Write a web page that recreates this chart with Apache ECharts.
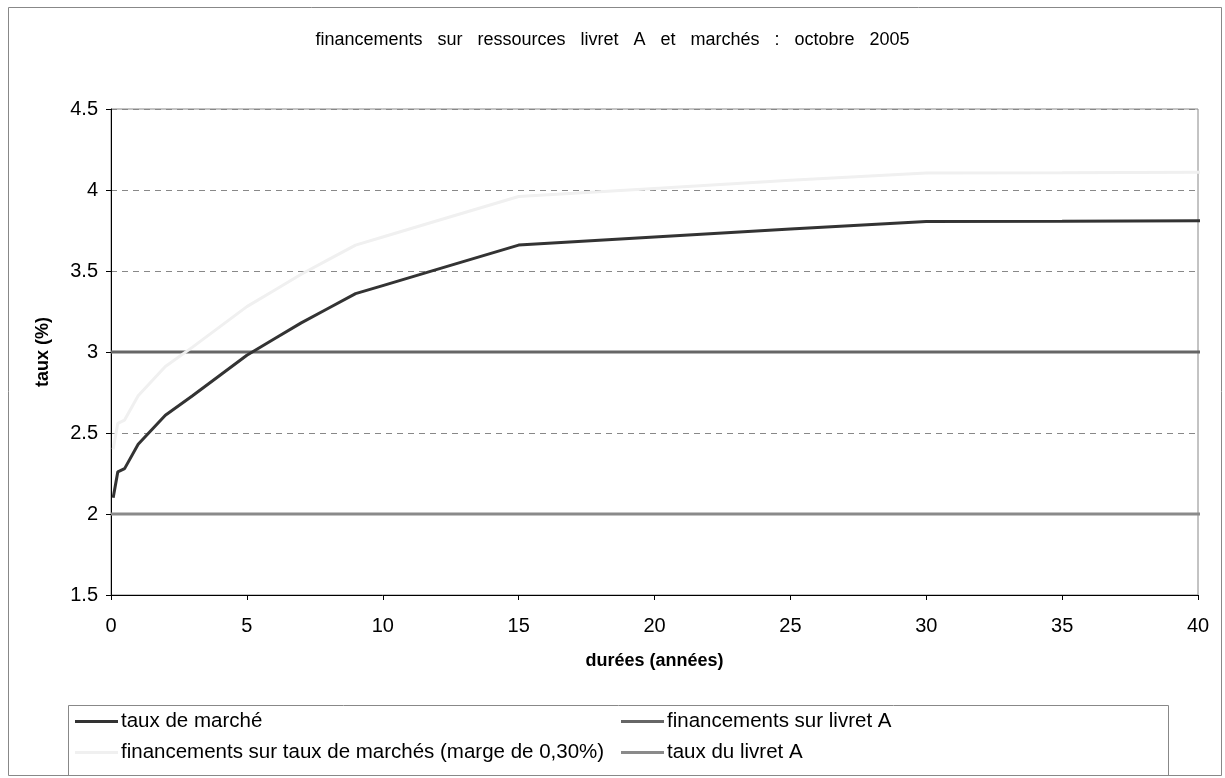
<!DOCTYPE html>
<html>
<head>
<meta charset="utf-8">
<script src="https://cdn.jsdelivr.net/npm/echarts@6/dist/echarts.min.js"></script>
<style>
html,body{margin:0;padding:0;background:#fff;}
#main{width:1225px;height:778px;}
</style>
</head>
<body>
<div id="main"></div>
<script>
// durées (années) et taux (%)
var durees = [0.08, 0.25, 0.5, 1, 2, 3, 4, 5, 6, 7, 8, 9, 10, 12, 15, 20, 25, 30, 35, 40.3];
var tauxMarche = [2.10, 2.26, 2.28, 2.43, 2.61, 2.73, 2.855, 2.98, 3.08, 3.18, 3.27, 3.36, 3.41, 3.51, 3.66, 3.71, 3.76, 3.805, 3.807, 3.81];
var financementsMarche = [2.40, 2.56, 2.58, 2.73, 2.91, 3.03, 3.155, 3.28, 3.38, 3.48, 3.57, 3.66, 3.71, 3.81, 3.96, 4.01, 4.06, 4.105, 4.107, 4.11];
var dureesLivret = [0, 40.3];
var financementsLivret = [3, 3];
var tauxLivret = [2, 2];
var xTicks = [0, 40, 5];        // min, max, pas
var yTicks = [1.5, 4.5, 0.5];

var noms = ['taux de marché', 'financements sur taux de marchés (marge de 0,30%)', 'financements sur livret A', 'taux du livret A'];
var titre = 'financements sur ressources livret A et marchés : octobre 2005';

function paires(xs, ys) {
	var out = [];
	for (var i = 0; i < xs.length; i++) {
		out.push([xs[i], ys[i]]);
	}
	return out;
}

var police = 'Liberation Sans, Arial, sans-serif';
var legendeTexte = {fontFamily: police, fontSize: 20.5, lineHeight: 20, color: '#000', padding: [0, 0, 0, -2]};
var myChart = echarts.init(document.getElementById('main'));
var option = {
	backgroundColor: '#fff',
	animation: false,
	title: {
		// mots espacés comme sur l'original
		text: titre.split(' ').join('   '),
		left: 'center',
		top: 31,
		padding: 0,
		textStyle: {fontFamily: police, fontSize: 18, fontWeight: 'normal', color: '#000'}
	},
	grid: {
		left: 111, right: 27, top: 109, bottom: 183,
		show: true, borderColor: '#888', borderWidth: 1
	},
	legend: [
		{
			data: [noms[0], noms[1]],
			orient: 'vertical', left: 75, top: 711, padding: 0,
			icon: 'rect', itemWidth: 43, itemHeight: 3, itemGap: 10,
			textStyle: legendeTexte
		},
		{
			data: [noms[2], noms[3]],
			orient: 'vertical', left: 621, top: 711, padding: 0,
			icon: 'rect', itemWidth: 43, itemHeight: 3, itemGap: 10,
			textStyle: legendeTexte
		}
	],
	graphic: [
		{type: 'rect', left: 6, top: 5, shape: {width: 1213, height: 768}, style: {fill: null, stroke: '#888', lineWidth: 1}, silent: true},
		{type: 'rect', left: 66, top: 703, shape: {width: 1100, height: 70}, style: {fill: null, stroke: '#888', lineWidth: 1}, silent: true}
	],
	xAxis: {
		type: 'value',
		min: xTicks[0], max: xTicks[1], interval: xTicks[2],
		name: 'durées (années)',
		nameLocation: 'middle', nameGap: 57,
		nameTextStyle: {fontFamily: police, fontSize: 18, fontWeight: 'bold', color: '#000'},
		axisLine: {lineStyle: {color: '#000', width: 1}},
		axisTick: {show: true, length: 5, lineStyle: {color: '#000'}},
		axisLabel: {fontFamily: police, fontSize: 20, color: '#000', margin: 21},
		splitLine: {show: false}
	},
	yAxis: {
		type: 'value',
		min: yTicks[0], max: yTicks[1], interval: yTicks[2],
		name: 'taux (%)',
		nameLocation: 'middle', nameGap: 59,
		nameTextStyle: {fontFamily: police, fontSize: 18, fontWeight: 'bold', color: '#000'},
		axisLine: {show: true, lineStyle: {color: '#000', width: 1}},
		axisTick: {show: true, length: 5, lineStyle: {color: '#000'}},
		axisLabel: {fontFamily: police, fontSize: 20, color: '#000', margin: 13},
		splitLine: {show: true, lineStyle: {color: '#888', width: 1, type: [6, 5]}}
	},
	series: [
		{
			name: noms[0], type: 'line', symbol: 'none', clip: false, z: 5,
			lineStyle: {color: '#333', width: 3}, itemStyle: {color: '#333'},
			data: paires(durees, tauxMarche)
		},
		{
			name: noms[1], type: 'line', symbol: 'none', clip: false, z: 4,
			lineStyle: {color: '#f0f0f0', width: 3}, itemStyle: {color: '#f0f0f0'},
			data: paires(durees, financementsMarche)
		},
		{
			name: noms[2], type: 'line', symbol: 'none', clip: false, z: 3,
			lineStyle: {color: '#666', width: 3}, itemStyle: {color: '#666'},
			data: paires(dureesLivret, financementsLivret)
		},
		{
			name: noms[3], type: 'line', symbol: 'none', clip: false, z: 3,
			lineStyle: {color: '#8a8a8a', width: 3}, itemStyle: {color: '#8a8a8a'},
			data: paires(dureesLivret, tauxLivret)
		}
	]
};
myChart.setOption(option);
</script>
</body>
</html>
